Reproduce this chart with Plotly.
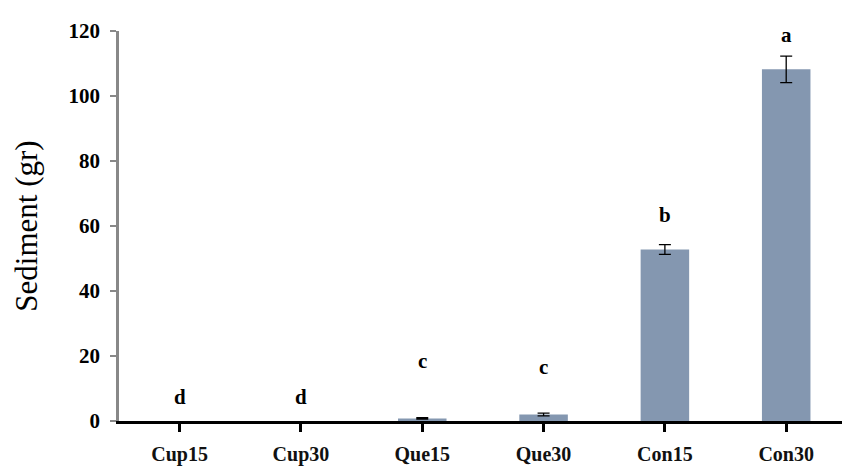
import plotly.graph_objects as go

# Sediment mass per treatment, with standard errors and significance letters
treatments = ["Cup15", "Cup30", "Que15", "Que30", "Con15", "Con30"]
sediment = [0.0, 0.0, 0.8, 2.0, 52.8, 108.2]
sediment_err = [None, None, 0.2, 0.4, 1.5, 4.1]
group_letters = ["d", "d", "c", "c", "b", "a"]
letter_y = [7.3, 7.3, 18.4, 16.5, 63.3, 118.7]

serif = "Liberation Serif, Times New Roman, serif"
positions = list(range(len(treatments)))

fig = go.Figure()
fig.add_trace(go.Bar(
    x=positions,
    y=sediment,
    width=0.4,
    marker=dict(color="#8497B0", line=dict(width=0)),
    showlegend=False,
))

# error bars only for treatments that have a measured spread
err_idx = [i for i, e in enumerate(sediment_err) if e is not None]
fig.add_trace(go.Scatter(
    x=[positions[i] for i in err_idx],
    y=[sediment[i] for i in err_idx],
    mode="markers",
    marker=dict(size=0.1, opacity=0),
    error_y=dict(type="data", array=[sediment_err[i] for i in err_idx],
                 visible=True, color="black", thickness=1.3, width=6),
    showlegend=False,
    hoverinfo="skip",
))

for i, (lab, ly) in enumerate(zip(group_letters, letter_y)):
    fig.add_annotation(x=i, y=ly, text=f"<b>{lab}</b>", showarrow=False,
                       xanchor="center", yanchor="middle",
                       font=dict(family=serif, size=21, color="black"))

fig.update_layout(
    width=842, height=467,
    margin=dict(l=119, r=0, t=31, b=46),
    paper_bgcolor="white", plot_bgcolor="white",
    bargap=0.6,
)
fig.update_xaxes(
    range=[-0.5, 5.46],
    tickmode="array",
    tickvals=positions,
    ticktext=[f"<b>{t}</b>" for t in treatments],
    tickson="boundaries",
    ticks="outside", ticklen=8, tickwidth=3, tickcolor="black",
    showline=True, linecolor="black", linewidth=3,
    showgrid=False, zeroline=False,
    tickfont=dict(family=serif, size=20, color="#111"),
    ticklabelstandoff=5,
    automargin=False,
)
fig.update_yaxes(
    range=[0, 120],
    tickvals=[0, 20, 40, 60, 80, 100, 120],
    ticktext=[f"<b>{v}</b>" for v in [0, 20, 40, 60, 80, 100, 120]],
    ticks="outside", ticklen=6, tickwidth=2, tickcolor="#888",
    showline=True, linecolor="#888", linewidth=2.5,
    showgrid=False, zeroline=False,
    tickfont=dict(family=serif, size=21, color="black"),
    ticklabelstandoff=6,
    title=dict(text="Sediment (gr)", font=dict(family=serif, size=31, color="black"),
               standoff=22),
    automargin=False,
)

fig.write_html("out.html")
